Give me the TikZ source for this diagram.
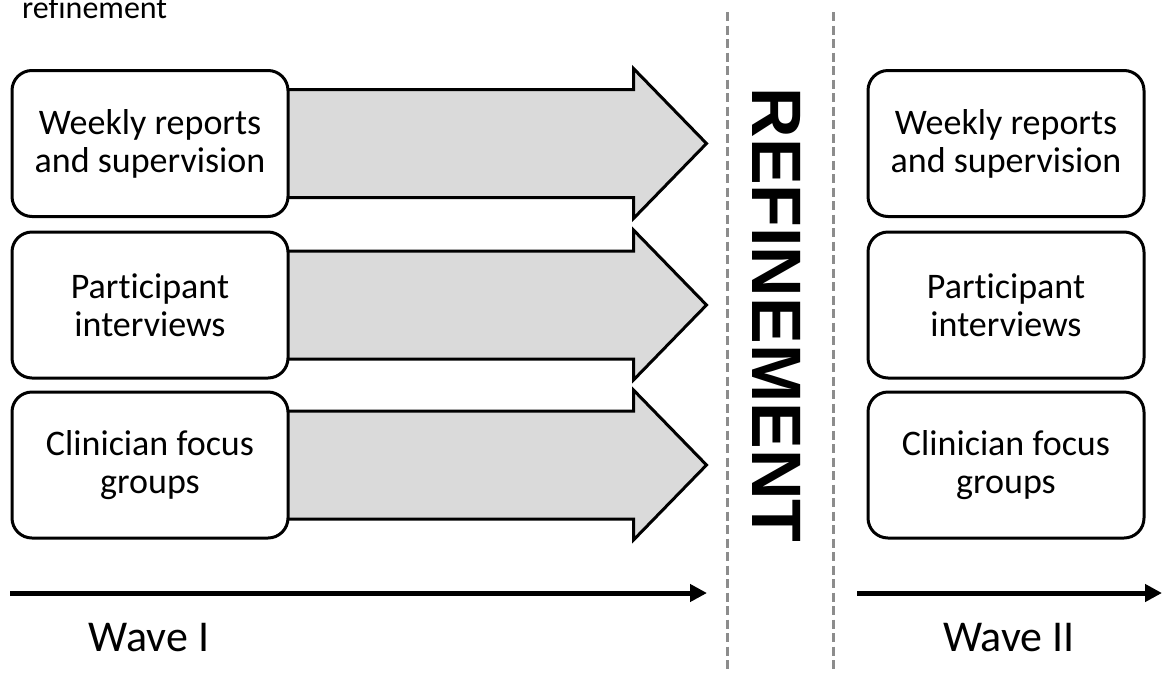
\documentclass[tikz,border=0pt]{standalone}
\usepackage{fontspec}
\setmainfont{Carlito}[Ligatures={NoCommon,NoRequired,NoContextual}, RawFeature=-liga;-clig;-dlig;-calt]
\newfontfamily\headfont{Liberation Sans}
\usetikzlibrary{arrows.meta,backgrounds}
\definecolor{arrowgray}{RGB}{218,218,218}
\definecolor{dashgray}{RGB}{140,140,140}
\tikzset{
  stagebox/.style={draw=black, fill=white, line width=3pt, rounded corners=20pt,
    minimum width=276pt, minimum height=146pt, align=center, inner sep=0pt,
    font=\fontsize{36}{38}\selectfont},
  bigarrow/.style={draw=black, fill=arrowgray, line width=3pt, line join=miter},
  divider/.style={draw=dashgray, line width=3pt, dash pattern=on 9pt off 4.5pt},
  timeline/.style={draw=black, line width=5pt, -{Triangle[length=17pt,width=17pt]}},
  wavelabel/.style={font=\fontsize{44}{50}\selectfont, inner sep=0pt},
}
\begin{document}
\begin{tikzpicture}[x=1pt,y=-1pt]
\useasboundingbox (0,0) rectangle (1162,673);

% caption fragment at the top
\node[anchor=base west, inner sep=0pt, font=\fontsize{32}{36}\selectfont] (cap) at (22,18) {refinement};

% Wave I activities
\node[stagebox] (l1) at (150,143.5) {Weekly reports\\and supervision};
\node[stagebox] (l2) at (150,305) {Participant\\interviews};
\node[stagebox] (l3) at (150,465) {Clinician focus\\groups};

% Wave II activities
\node[stagebox] (r1) at (1006,143.5) {Weekly reports\\and supervision};
\node[stagebox] (r2) at (1006,305) {Participant\\interviews};
\node[stagebox] (r3) at (1006,465) {Clinician focus\\groups};

% block arrows leading into the refinement stage
\begin{pgfonlayer}{background}
\foreach \b in {l1,l2,l3}{
  \draw[bigarrow] (\b.east) ++(-8,-54) -- ++(352,0) -- ++(0,-21) -- ++(73,75)
    -- ++(-73,75) -- ++(0,-21) -- ++(-352,0) -- cycle;
}
\end{pgfonlayer}

% refinement stage between the dividers
\coordinate (d1t) at (727,12);
\coordinate (d1b) at (727,673);
\coordinate (d2t) at (833,12);
\coordinate (d2b) at (833,673);
\draw[divider] (d1t) -- (d1b);
\draw[divider] (d2t) -- (d2b);
\node[rotate=-90, inner sep=0pt, font=\headfont\bfseries\fontsize{70}{70}\selectfont] (ref) at (777,315) {REFINEMENT};

% time lines
\coordinate (t1s) at (10,593);
\coordinate (t1e) at (707,593);
\coordinate (t2s) at (857,593);
\coordinate (t2e) at (1162,593);
\draw[timeline] (t1s) -- (t1e);
\draw[timeline] (t2s) -- (t2e);
\node[wavelabel] (w1) at (149,638) {Wave I};
\node[wavelabel] (w2) at (1009,638) {Wave II};
\end{tikzpicture}
\end{document}
